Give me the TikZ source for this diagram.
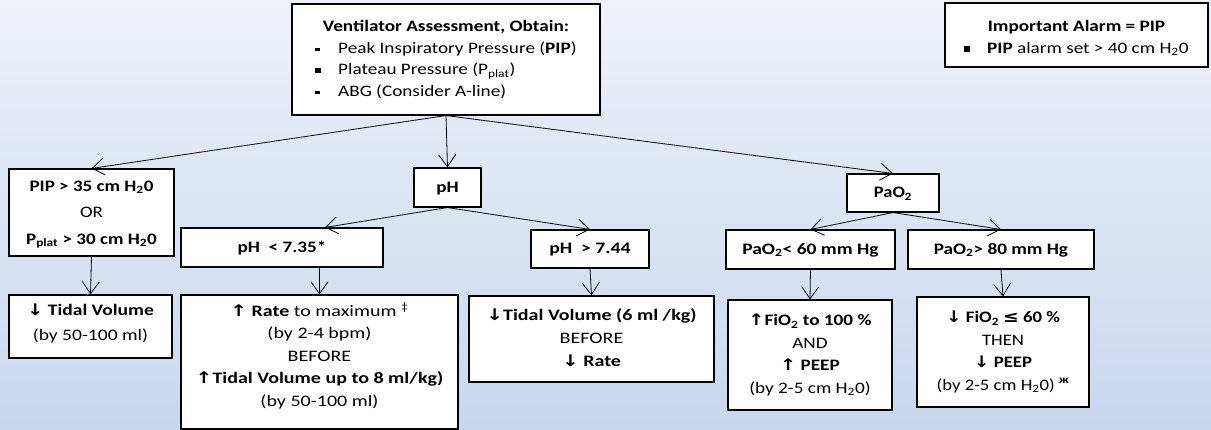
\documentclass[tikz,border=0pt]{standalone}
\usepackage{fontspec}
\usepackage{graphicx}
\setmainfont{Carlito}
\newfontfamily\arrowfont{DejaVu Sans}
\usetikzlibrary{arrows.meta}
\definecolor{bgtop}{HTML}{EEF1F8}
\definecolor{bgbot}{HTML}{C8D7EE}
\newcommand{\upar}{{\arrowfont\bfseries ↑}}
\newcommand{\dnar}{{\arrowfont\bfseries ↓}}
\newcommand{\smbul}{\makebox[19pt][l]{\rule[2pt]{3.5pt}{3.5pt}}}
\newcommand{\bgbul}{\makebox[19pt][l]{\rule[1.5pt]{5pt}{5.5pt}}}
% text of the slide is drawn wider than the font
\newcommand{\stretchtext}[2]{\scalebox{#1}[1]{\begin{tabular}{@{}c@{}}#2\end{tabular}}}
\begin{document}
\begin{tikzpicture}[x=1pt, y=-1pt, ->, >={Straight Barb[length=12pt,width=17pt]}, line width=0.8pt,
    box/.style={draw, line width=1.1pt, fill=white, inner sep=0pt, align=center,
      font=\fontsize{16}{23}\selectfont}]
  \shade[-, top color=bgtop, bottom color=bgbot] (0,0) rectangle (1211,430);

  \node[box, minimum width=308pt, minimum height=111pt, font=\fontsize{16}{21.5}\selectfont] (assess) at (446,59.5)
    {\scalebox{1.2}[1]{\begin{tabular}{@{}l@{}}
      \multicolumn{1}{@{}c@{}}{\textbf{Ventilator Assessment, Obtain:}}\\
      \smbul Peak Inspiratory Pressure (\textbf{PIP})\\
      \bgbul Plateau Pressure (P\textsubscript{plat})\\
      \smbul ABG (Consider A-line)
    \end{tabular}}};
  \node[box, minimum width=263pt, minimum height=64pt, font=\fontsize{16}{22}\selectfont] (alarm) at (1076.5,35)
    {\scalebox{1.2}[1]{\begin{tabular}{@{}l@{}}
      \multicolumn{1}{@{}c@{}}{\rule{0pt}{21pt}\textbf{Important Alarm = PIP}}\\
      \bgbul\textbf{PIP} alarm set > 40 cm H\textsubscript{2}0
    \end{tabular}}};

  % left branch
  \node[box, minimum width=165pt, minimum height=87pt, font=\fontsize{16}{26.5}\selectfont] (pip) at (91.5,212.5)
    {\stretchtext{1.19}{\textbf{PIP > 35 cm H\textsubscript{2}0}\\ OR\\ \textbf{P\textsubscript{plat} > 30 cm H\textsubscript{2}0}}};
  \node[box, minimum width=163pt, minimum height=63pt, font=\fontsize{16}{25}\selectfont] (tvdown) at (90.5,326.5)
    {\stretchtext{1.22}{\dnar\ \textbf{Tidal Volume}\\ (by 50-100 ml)\rule[-14pt]{0pt}{1pt}}};

  % pH branch
  \node[box, minimum width=67pt, minimum height=39pt] (ph) at (447.5,187.5) {\stretchtext{1.2}{\textbf{pH}}};
  \node[box, minimum width=202pt, minimum height=39pt] (phlow) at (282,247.5) {\stretchtext{1.2}{\textbf{pH\ \ < 7.35*}}};
  \node[box, minimum width=118pt, minimum height=38pt] (phhigh) at (590,249) {\stretchtext{1.23}{\textbf{pH\ \ > 7.44}}};
  \node[box, minimum width=277pt, minimum height=134pt, font=\fontsize{16}{22.5}\selectfont] (rate) at (319.5,362)
    {\stretchtext{1.25}{\upar\ \textbf{Rate} to maximum \textsuperscript{‡}\\ (by 2-4 bpm)\\ BEFORE\\
     \upar\textbf{Tidal Volume up to 8 ml/kg)}\\ (by 50-100 ml)\rule[-17pt]{0pt}{1pt}}};
  \node[box, minimum width=245pt, minimum height=86pt] (tvsix) at (591.5,339)
    {\stretchtext{1.25}{\dnar\textbf{Tidal Volume (6 ml /kg)}\\ BEFORE\\ \dnar\ \textbf{Rate}}};

  % PaO2 branch
  \node[box, minimum width=92pt, minimum height=38pt] (pao) at (893,193) {\stretchtext{1.15}{\textbf{PaO\textsubscript{2}}}};
  \node[box, minimum width=169pt, minimum height=39pt] (paolow) at (810.5,249.5) {\stretchtext{1.22}{\textbf{PaO\textsubscript{2}< 60 mm Hg}}};
  \node[box, minimum width=186pt, minimum height=39pt] (paohigh) at (1001,249.5) {\stretchtext{1.2}{\textbf{PaO\textsubscript{2}> 80 mm Hg}}};
  \node[box, minimum width=164pt, minimum height=110pt, font=\fontsize{16}{22.5}\selectfont] (fioup) at (810,355)
    {\stretchtext{1.2}{\upar\textbf{FiO\textsubscript{2} to 100 \%}\\ AND\\ \upar\ \textbf{PEEP}\\ (by 2-5 cm H\textsubscript{2}0)}};
  \node[box, minimum width=172pt, minimum height=110pt, font=\fontsize{16}{22.5}\selectfont] (fiodown) at (1003,352)
    {\stretchtext{1.17}{\dnar\ \textbf{FiO\textsubscript{2} {\arrowfont ≤} 60 \%}\\ THEN\\ \dnar\ \textbf{PEEP}\\
     (by 2-5 cm H\textsubscript{2}0) \textsuperscript{\textbf{ж}}}};

  \path (assess.south) edge (pip.north)
        (assess.south) edge (ph.north)
        (assess.south) edge (pao.north)
        (pip.south) edge (tvdown.north)
        (ph.south) edge ([xshift=43pt]phlow.north)
        (ph.south) edge (phhigh.north)
        (rate.north |- phlow.south) edge (rate.north)
        (phhigh.south) edge (tvsix.north)
        (pao.south) edge (paolow.north)
        (pao.south) edge (paohigh.north)
        (paolow.south) edge (fioup.north)
        (paohigh.south) edge (fiodown.north)
        ;
\end{tikzpicture}
\end{document}
